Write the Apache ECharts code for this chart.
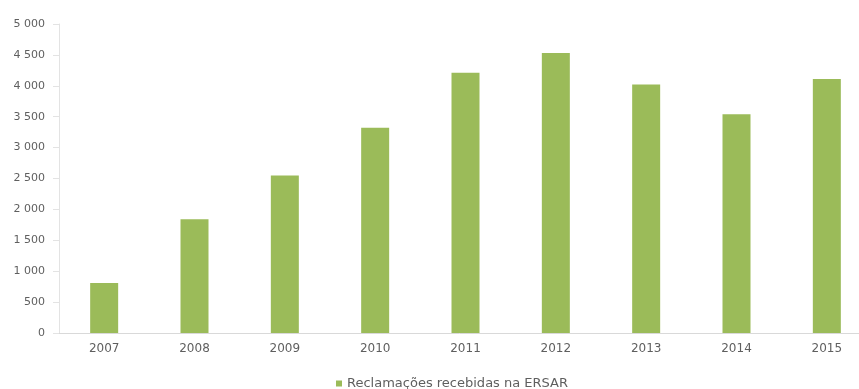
<!DOCTYPE html>
<html>
<head>
<meta charset="utf-8">
<script src="https://cdn.jsdelivr.net/npm/echarts@6/dist/echarts.min.js"></script>
<style>
html,body{margin:0;padding:0;background:#fff;overflow:hidden;}
#chart{width:859px;height:389px;}
</style>
</head>
<body>
<div id="chart"></div>
<script>
var categories = ['2007','2008','2009','2010','2011','2012','2013','2014','2015'];
var seriesName = 'Reclamações recebidas na ERSAR';
var values = [810, 1840, 2550, 3320, 4210, 4530, 4020, 3540, 4110];
var yTicks = [0, 500, 1000, 1500, 2000, 2500, 3000, 3500, 4000, 4500, 5000];

function fmt(v){
  var s = String(v);
  return s.replace(/\B(?=(\d{3})+(?!\d))/g, ' ');
}

var chart = echarts.init(document.getElementById('chart'), null, {renderer:'canvas'});
chart.setOption({
  animation:false,
  backgroundColor:'#ffffff',
  grid:{left:59, top:24, width:813, height:309, containLabel:false, outerBoundsMode:'none'},
  legend:{
    top:372, left:331,
    itemWidth:6, itemHeight:6, itemGap:3,
    icon:'rect',
    textStyle:{color:'#5f5f5f', fontSize:13, fontFamily:'DejaVu Sans, sans-serif'},
    data:[seriesName]
  },
  xAxis:{
    type:'category',
    data:categories,
    axisLine:{show:true, lineStyle:{color:'#d9d9d9'}},
    axisTick:{show:false},
    axisLabel:{color:'#5f5f5f', fontSize:12, margin:10, fontFamily:'DejaVu Sans, sans-serif'}
  },
  yAxis:{
    type:'value',
    min:yTicks[0], max:yTicks[yTicks.length-1], interval:500,
    axisLine:{show:true, lineStyle:{color:'#e3e3e3'}},
    axisTick:{show:true, length:6, lineStyle:{color:'#e3e3e3'}},
    splitLine:{show:false},
    axisLabel:{color:'#5f5f5f', fontSize:11, margin:14, fontFamily:'DejaVu Sans, sans-serif', formatter:fmt}
  },
  series:[{
    name:seriesName,
    type:'bar',
    data:values,
    barWidth:28,
    itemStyle:{color:'#9bbb59'}
  }]
});
</script>
</body>
</html>
